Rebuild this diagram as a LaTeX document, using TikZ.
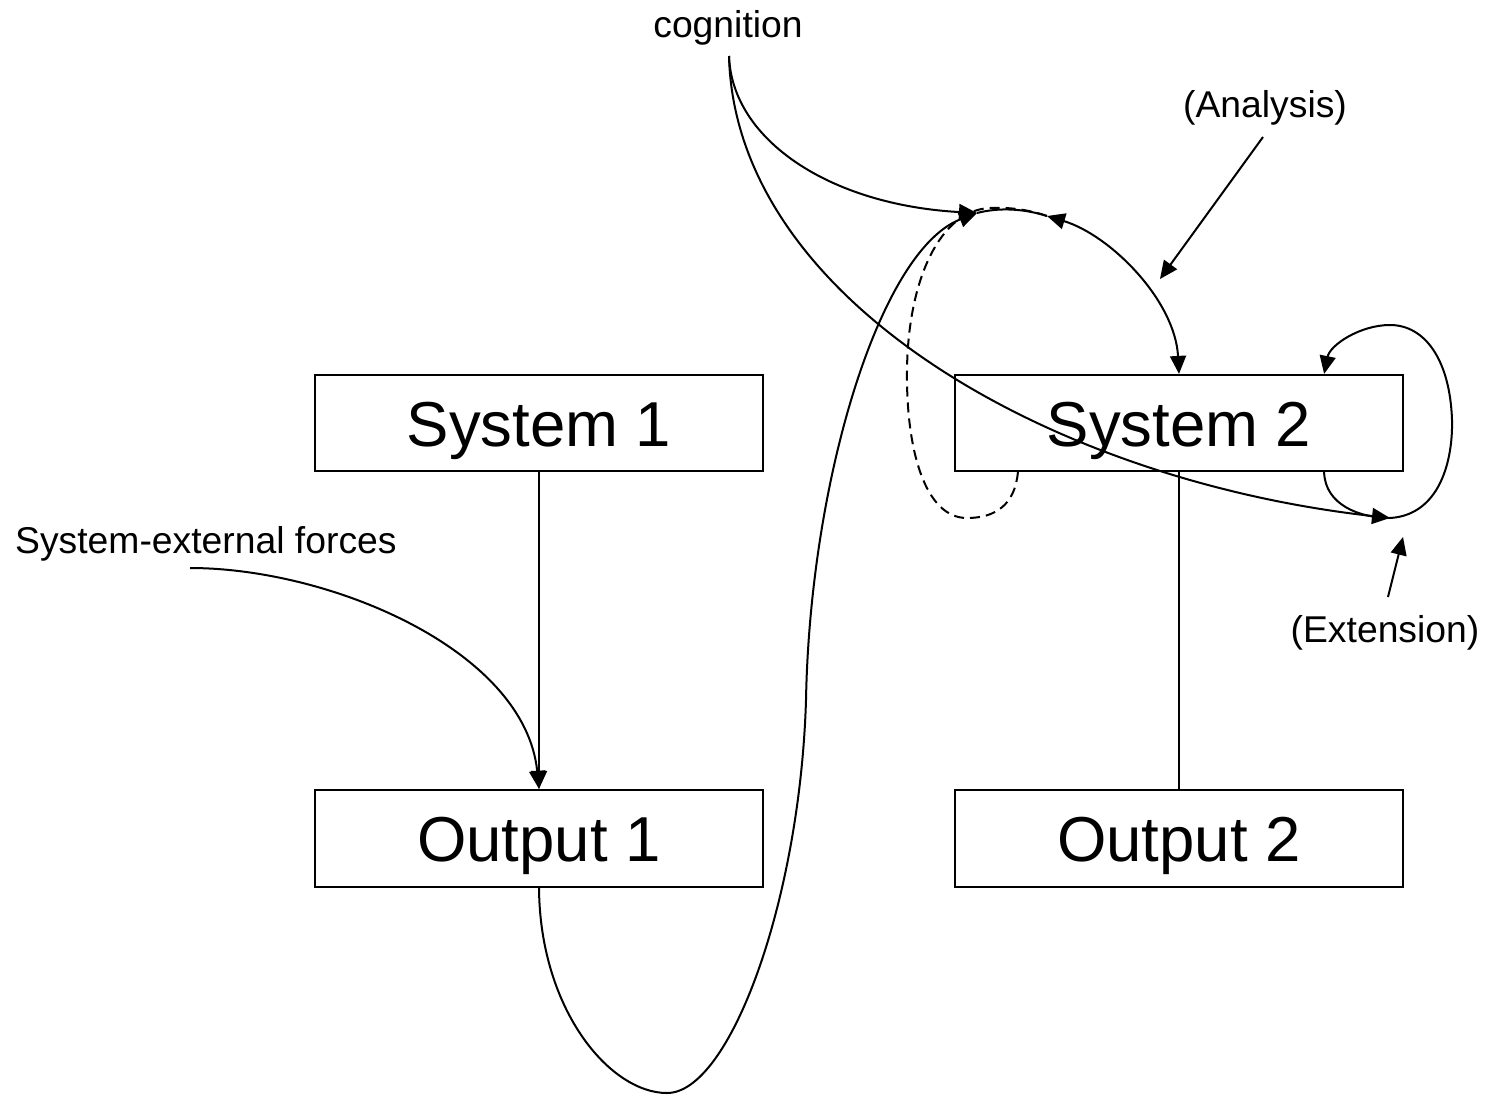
\documentclass[tikz,border=0pt]{standalone}
\usepackage{fontspec}
\setmainfont{Liberation Sans}
\usetikzlibrary{arrows.meta,calc}
\tikzset{
  boxnode/.style={draw, line width=2.2pt, minimum width=448pt, minimum height=96pt, inner sep=0pt,
    font=\fontsize{63.5}{75}\selectfont, text height=46pt, text depth=0pt},
  smalltext/.style={font=\fontsize{37.3}{44}\selectfont, inner sep=0pt},
  conn/.style={line width=2pt},
  tip/.style={-{Triangle[length=18pt,width=16pt]}},
  dashconn/.style={line width=2pt, dash pattern=on 10pt off 6pt},
}
\begin{document}
\begin{tikzpicture}[x=1pt,y=-1pt]
\useasboundingbox (0,0) rectangle (1488,1096);
% boxes
\node[boxnode] (s1) at (539,423) {System 1};
\node[boxnode] (s2) at (1179,423) {System 2};
\node[boxnode, minimum height=97pt] (o1) at (539,838.5) {Output 1};
\node[boxnode, minimum height=97pt] (o2) at (1179,838.5) {Output 2};
% labels
\node[smalltext, anchor=base] (cog) at (728,37) {cognition};
\node[smalltext, anchor=base] (ana) at (1265,117) {(Analysis)};
\node[smalltext, anchor=base] (ext) at (1385,642) {(Extension)};
\node[smalltext, anchor=base west] (sef) at (15,553) {System-external forces};
% named points
\coordinate (c0) at (729,56);
\coordinate (jL) at (977,213);
\coordinate (jR) at (1047,216);
\coordinate (xp) at (1390,518);
\coordinate (sefs) at (190,568);
\coordinate (anat) at (1263,137);
\coordinate (anah) at (1160,279);
\coordinate (extt) at (1388,597);
\coordinate (exth) at (1403,537);
% vertical connectors
\draw[conn, tip] (s1.south) -- (o1.north);
\draw[conn] (s2.south) -- (o2.north);
% system-external forces
\draw[conn, tip] (sefs) .. controls (330,568) and (525,650) .. (o1.north);
% cognition curves
\draw[conn, tip] (c0) .. controls (732,140) and (830,205) .. (jL);
\draw[conn, tip] (c0) .. controls (735,300) and (1050,480) .. (xp);
% big curve from Output 1
\draw[conn, tip] (o1.south) .. controls (540,1010) and (610,1093) .. (667,1093)
  .. controls (730,1093) and (800,900) .. (806,700)
  .. controls (810,480) and (880,250) .. (jL);
% top arc
\draw[conn] (jL) .. controls (1000,207) and (1025,209) .. (jR);
% analysis double arrow
\draw[conn, {Triangle[length=18pt,width=16pt]}-{Triangle[length=18pt,width=16pt]}]
  (jR) .. controls (1110,235) and (1175,300) .. (s2.north);
% dashed loop
\draw[dashconn] ($(s2.south west)+(64,0)$) .. controls (1015,505) and (995,518) .. (967,518)
  .. controls (925,518) and (906,450) .. (907,370)
  .. controls (908,280) and (940,210) .. (990,208)
  .. controls (1010,207) and (1030,210) .. (jR);
% right loop
\draw[conn, tip] ($(s2.south east)+(-80,0)$) .. controls (1325,505) and (1360,518) .. (xp)
  .. controls (1440,515) and (1453,460) .. (1452,420)
  .. controls (1450,360) and (1425,325) .. (1390,325)
  .. controls (1360,325) and (1330,345) .. ($(s2.north east)+(-80,0)$);
% annotation arrows
\draw[conn, tip] (anat) -- (anah);
\draw[conn, tip] (extt) -- (exth);
\end{tikzpicture}
\end{document}
